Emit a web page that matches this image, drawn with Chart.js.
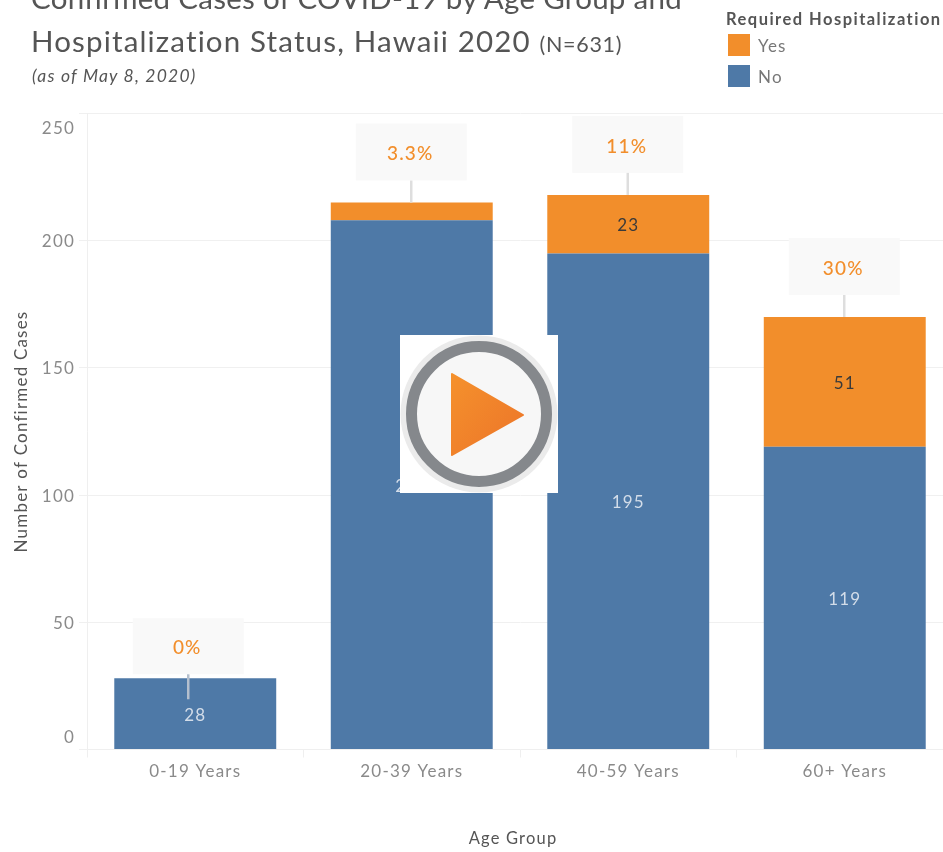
<!DOCTYPE html>
<html><head><meta charset="utf-8">
<script src="https://cdn.jsdelivr.net/npm/chart.js@4"></script>
<style>
html,body{margin:0;padding:0;background:#fff;width:943px;height:852px;overflow:hidden;font-family:Lato,sans-serif}
#wrap{position:relative;width:943px;height:852px;overflow:hidden;filter:blur(.45px)}
canvas{position:absolute;left:0;top:0}
.t{position:absolute;white-space:nowrap;color:#555}
.sw{position:absolute;left:728px;width:22px;height:22px}
#play{position:absolute;left:400px;top:335px}
</style></head><body>
<div id="wrap">
<canvas id="c" width="953" height="852"></canvas>
<div class="t" style="left:31px;top:-20px;font-size:29.5px;line-height:36px;letter-spacing:.28px">Confirmed Cases of COVID-19 by Age Group and</div>
<div class="t" style="left:31px;top:23px;font-size:29.5px;line-height:36px;letter-spacing:1.15px">Hospitalization Status, Hawaii 2020 <span style="font-size:21.5px;letter-spacing:.7px">(N=631)</span></div>
<div class="t" style="left:32px;top:65px;font-size:17.5px;line-height:22px;font-style:italic;letter-spacing:1.2px">(as of May 8, 2020)</div>
<div class="t" style="left:726px;top:9px;font-size:16.5px;line-height:20px;font-weight:700;color:#555;letter-spacing:1.47px">Required Hospitalization</div>
<div class="sw" style="top:34px;background:#f28e2b"></div>
<div class="t" style="left:758px;top:36px;font-size:17px;line-height:20px;color:#777;letter-spacing:1.2px">Yes</div>
<div class="sw" style="top:65px;background:#4e79a7"></div>
<div class="t" style="left:758px;top:67px;font-size:17px;line-height:20px;color:#777;letter-spacing:1.2px">No</div>
<svg id="play" width="158" height="158" viewBox="0 0 158 158">
<defs><linearGradient id="g" x1="0" y1="0" x2="1" y2="1"><stop offset="0" stop-color="#f5912c"/><stop offset="1" stop-color="#ec7429"/></linearGradient></defs>
<rect width="158" height="158" fill="#fff"/>
<circle cx="79" cy="79" r="78.5" fill="#ebebeb"/>
<circle cx="79" cy="79" r="67.5" fill="#f7f7f7" stroke="#85888c" stroke-width="11"/>
<path d="M52 39 L123 80 L52 120 Z" fill="url(#g)" stroke="url(#g)" stroke-width="2" stroke-linejoin="round"/>
</svg>
</div>
<script>
const categories = ["0-19 Years","20-39 Years","40-59 Years","60+ Years"];
const notHospitalized = [28,208,195,119];
const hospitalized = [0,7,23,51];
const hospitalizedShare = ["0%","3.3%","11%","30%"];
const yTickValues = [0,50,100,150,200,250];
const xAxisTitle = "Age Group";
const blue="#4e79a7", orange="#f28e2b", greyText="#8a8a8a";
const spacing="1.2px";

const callouts = {
  id:"callouts",
  beforeDraw(chart){
    chart.ctx.letterSpacing=spacing;
    // end ticks sit inside the plot, as in the reference
    chart.scales.y.getLabelItems().forEach(it=>{
      if(it._moved) return; it._moved=true;
      it.options.translation[0]+=1;
      it.options.translation[1]+=1;
      if(it.label==="250") it.options.translation[1]+=14;
      if(it.label==="0") it.options.translation[1]-=13;
    });
  },
  afterDatasetsDraw(chart){
    const {ctx,scales:{x,y}} = chart;
    ctx.save();
    ctx.letterSpacing=spacing;
    ctx.textAlign="center"; ctx.textBaseline="middle";
    ctx.font="17px Lato";
    categories.forEach((_,i)=>{
      const cx=x.getPixelForValue(i);
      const n=notHospitalized[i], h=hospitalized[i];
      ctx.fillStyle="#d3dde9";
      ctx.fillText(String(n),cx,y.getPixelForValue(n/2)+1.5);
      if(h>=10){ctx.fillStyle="#3a3a3a";ctx.fillText(String(h),cx,y.getPixelForValue(n+h/2)+1.5);}
    });
    categories.forEach((_,i)=>{
      const top=y.getPixelForValue(notHospitalized[i]+hospitalized[i]);
      const small=i===0;
      const cx=x.getPixelForValue(i)+(small?-7:-0.5);
      const boxBottom=top-(small?4:22), boxH=small?56:57, boxW=111;
      ctx.fillStyle="#f9f9f9";
      ctx.fillRect(cx-boxW/2,boxBottom-boxH,boxW,boxH);
      ctx.strokeStyle=small?"#b4bfcd":"#dedede";ctx.lineWidth=2.5;
      ctx.beginPath();ctx.moveTo(cx,boxBottom);ctx.lineTo(cx,small?top+21:top);ctx.stroke();
      ctx.fillStyle=orange;ctx.font="500 19px Lato";
      ctx.fillText(hospitalizedShare[i],cx-1,boxBottom-boxH/2+2);
    });
    ctx.fillStyle="#555";ctx.font="16.5px Lato";
    ctx.fillText(xAxisTitle,513,839);
    ctx.restore();
  }
};

new Chart(document.getElementById("c"),{
  type:"bar",
  data:{labels:categories,datasets:[
    {label:"No",data:notHospitalized,backgroundColor:blue,stack:"a"},
    {label:"Yes",data:hospitalized,backgroundColor:orange,stack:"a"}
  ]},
  options:{
    responsive:false,animation:false,
    layout:{padding:{top:113.5,right:0,bottom:0,left:0}},
    barPercentage:0.748,categoryPercentage:1,
    plugins:{legend:{display:false},tooltip:{enabled:false},title:{display:false}},
    scales:{
      x:{stacked:true,
        afterFit(s){s.height=102.5;},
        grid:{drawOnChartArea:false,tickLength:8,color:"#efefef"},
        border:{color:"#efefef"},
        ticks:{color:greyText,font:{size:17,family:"Lato"},padding:4,maxRotation:0},
        title:{display:false}},
      y:{stacked:true,min:0,max:250,
        afterFit(s){s.width=87;},
        afterBuildTicks(s){s.ticks=yTickValues.map(v=>({value:v}));},
        grid:{color:"#f0f0f0",tickLength:8},
        border:{color:"#efefef"},
        ticks:{color:greyText,font:{size:17,family:"Lato"},padding:5},
        title:{display:true,text:"Number of Confirmed Cases",color:"#555",font:{size:17,family:"Lato"},padding:{top:11,bottom:0}}}
    }
  },
  plugins:[callouts]
});
</script>
</body></html>
